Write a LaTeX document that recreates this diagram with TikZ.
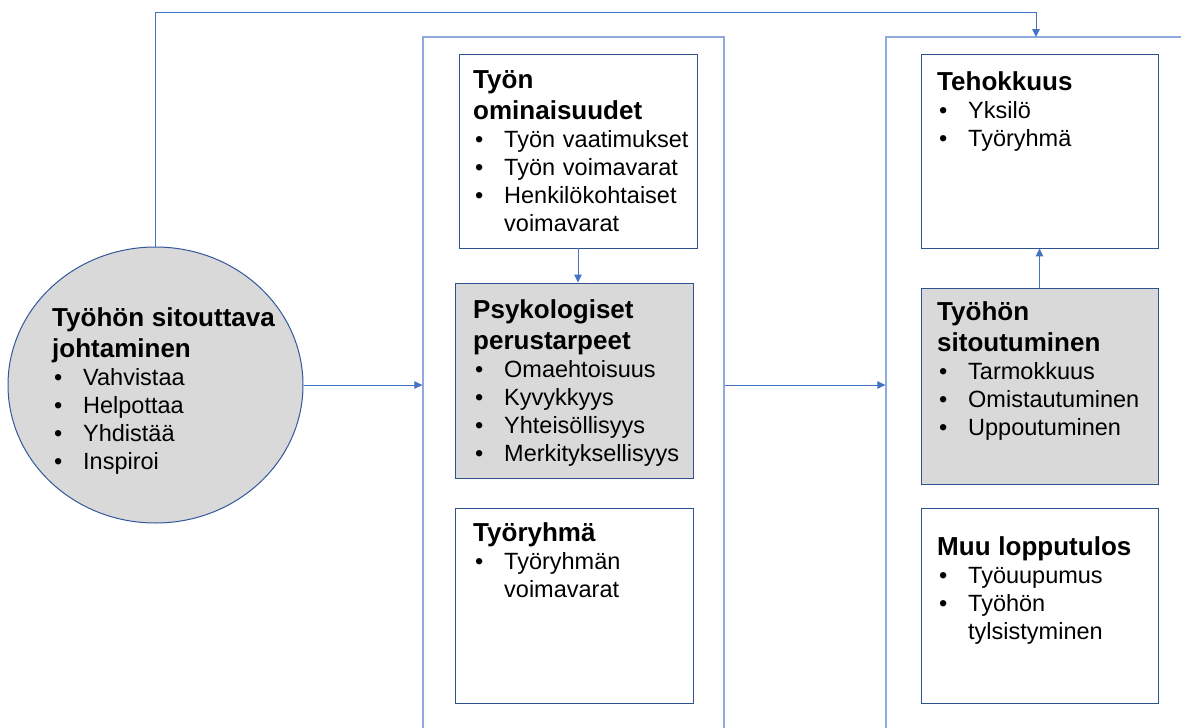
\documentclass[tikz,border=0pt]{standalone}
\usepackage{fontspec}
\setmainfont{Liberation Sans}
\usetikzlibrary{arrows.meta,shapes.geometric}
\definecolor{conn}{HTML}{4472C4}
\definecolor{boxline}{HTML}{2F528F}
\definecolor{cont}{HTML}{8FAADC}
\definecolor{grayfill}{HTML}{D9D9D9}
\newcommand\ttl[1]{{\fontsize{26}{31}\selectfont\bfseries #1\par}}
\newcommand\bul{\makebox[31pt][l]{\hspace{2pt}\textbullet}}
\newcommand\ind{\hspace*{31pt}}
\tikzset{
  connline/.style={draw=conn, line width=1pt, -{Triangle[length=8pt,width=7.5pt]}},
  container/.style={draw=cont, line width=1.3pt, rectangle, inner sep=0pt},
  boxnode/.style={draw=boxline, line width=0.9pt, rectangle, inner sep=0pt, fill=white},
  graybox/.style={boxnode, fill=grayfill},
  txt/.style={anchor=base west, inner sep=0pt, text width=290pt, align=left,
    font=\fontsize{23.5}{28}\selectfont}
}
\begin{document}
\begin{tikzpicture}[x=1pt,y=-1pt]
\useasboundingbox (0,0) rectangle (1181,728);
\clip (0,0) rectangle (1181,728);
\fill[white] (0,0) rectangle (1181,728);
% containers
\node[container, minimum width=301pt, minimum height=713pt] (mc) at (573.5,393.5) {};
\node[container, minimum width=314pt, minimum height=713pt] (rc) at (1043,393.5) {};
% circle
\node[ellipse, draw=boxline!80!conn, line width=1pt, fill=grayfill, minimum width=295pt, minimum height=276pt, inner sep=0pt] (lead) at (155.5,385) {};
% boxes
\node[boxnode, minimum width=238pt, minimum height=194pt] (b1) at (578,151) {};
\node[graybox, minimum width=238pt, minimum height=195pt] (b2) at (574,380.5) {};
\node[boxnode, minimum width=238pt, minimum height=195pt] (b3) at (574,605.5) {};
\node[boxnode, minimum width=237pt, minimum height=194pt] (r1) at (1039.5,151) {};
\node[graybox, minimum width=237pt, minimum height=196pt] (r2) at (1039.5,386) {};
\node[boxnode, minimum width=237pt, minimum height=195pt] (r3) at (1039.5,605.5) {};
% texts
\node[txt] (tlead) at (52,326) {\ttl{Työhön sitouttava\\johtaminen}\bul Vahvistaa\\\bul Helpottaa\\\bul Yhdistää\\\bul Inspiroi};
\node[txt] (tb1) at (473,88) {\ttl{Työn\\ominaisuudet}\bul Työn vaatimukset\\\bul Työn voimavarat\\\bul Henkilökohtaiset\\\ind voimavarat};
\node[txt] (tb2) at (473,318) {\ttl{Psykologiset\\perustarpeet}\bul Omaehtoisuus\\\bul Kyvykkyys\\\bul Yhteisöllisyys\\\bul Merkityksellisyys};
\node[txt] (tb3) at (473,541) {\ttl{Työryhmä}\bul Työryhmän\\\ind voimavarat};
\node[txt] (tr1) at (937,90) {\ttl{Tehokkuus}\bul Yksilö\\\bul Työryhmä};
\node[txt] (tr2) at (937,320) {\ttl{Työhön\\sitoutuminen}\bul Tarmokkuus\\\bul Omistautuminen\\\bul Uppoutuminen};
\node[txt] (tr3) at (937,555) {\ttl{Muu lopputulos}\bul Työuupumus\\\bul Työhön\\\ind tylsistyminen};
% connectors
\coordinate (topend) at (1036,37);
\draw[connline] (lead.north) -- (lead.north |- 0,12) -| (topend);
\draw[connline] (lead.east) -- (mc.west |- lead.east);
\draw[connline] (mc.east |- lead.east) -- (rc.west |- lead.east);
\draw[connline] (b1.south) -- (b1.south |- b2.north);
\draw[connline] (r2.north) -- (r1.south);
\end{tikzpicture}
\end{document}
